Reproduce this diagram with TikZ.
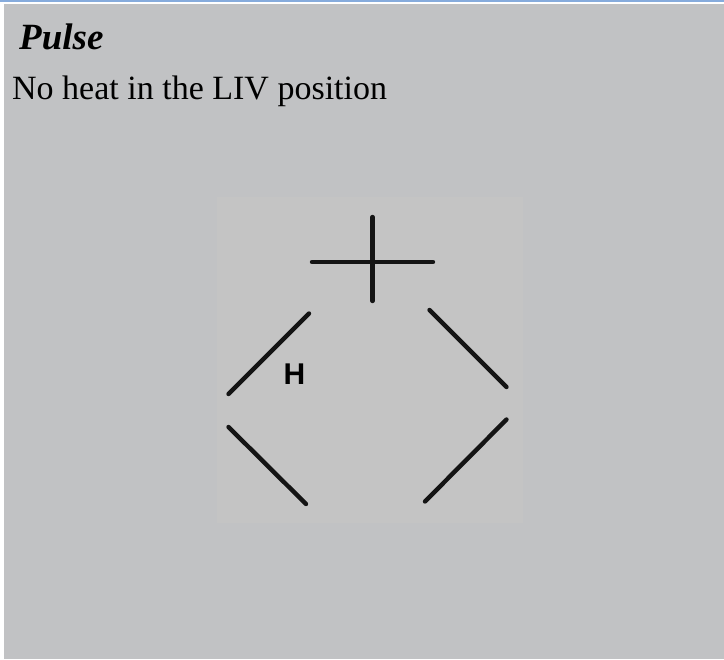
\documentclass[tikz,border=0pt]{standalone}
\usepackage{fontspec}
\setmainfont{Liberation Serif}
\setsansfont{Liberation Sans}
\definecolor{panelgray}{HTML}{C1C2C4}
\definecolor{innergray}{HTML}{C4C4C4}
\definecolor{topblue}{HTML}{86ABDC}
\tikzset{
  seg/.style={line width=4.4pt, line cap=round, black!92},
  titletext/.style={anchor=base west, inner sep=0pt, font=\fontsize{37}{40}\selectfont\bfseries\itshape},
  bodytext/.style={anchor=base west, inner sep=0pt, font=\fontsize{34}{38}\selectfont},
  hlabel/.style={inner sep=0pt, font=\sffamily\bfseries\fontsize{30}{32}\selectfont}
}
\begin{document}
\begin{tikzpicture}[x=1pt,y=-1pt]
\useasboundingbox (0,0) rectangle (724,660);
\fill[white] (0,0) rectangle (724,660);
\fill[topblue] (0,0) rectangle (724,2);
\fill[panelgray] (4,4) rectangle (724,659);
\fill[innergray] (217,197) rectangle (523,523);
\node[titletext] (title) at (19,50) {Pulse};
\node[bodytext] (body) at (12,100) {No heat in the LIV position};
% cross
\coordinate (ch1) at (312,262);
\coordinate (ch2) at (433,262);
\coordinate (cv1) at (372.5,217);
\coordinate (cv2) at (372.5,301);
\draw[seg] (ch1) -- (ch2);
\draw[seg] (cv1) -- (cv2);
% diamond segments
\coordinate (ul1) at (309,313.5);
\coordinate (ul2) at (228.5,394);
\coordinate (ur1) at (429.5,310);
\coordinate (ur2) at (506.5,387);
\coordinate (ll1) at (228.5,427);
\coordinate (ll2) at (306,504);
\coordinate (lr1) at (506.5,419.5);
\coordinate (lr2) at (425,501.5);
\draw[seg] (ul1) -- (ul2);
\draw[seg] (ur1) -- (ur2);
\draw[seg] (ll1) -- (ll2);
\draw[seg] (lr1) -- (lr2);
\node[hlabel] (h) at (294.5,374) {H};
\end{tikzpicture}
\end{document}
